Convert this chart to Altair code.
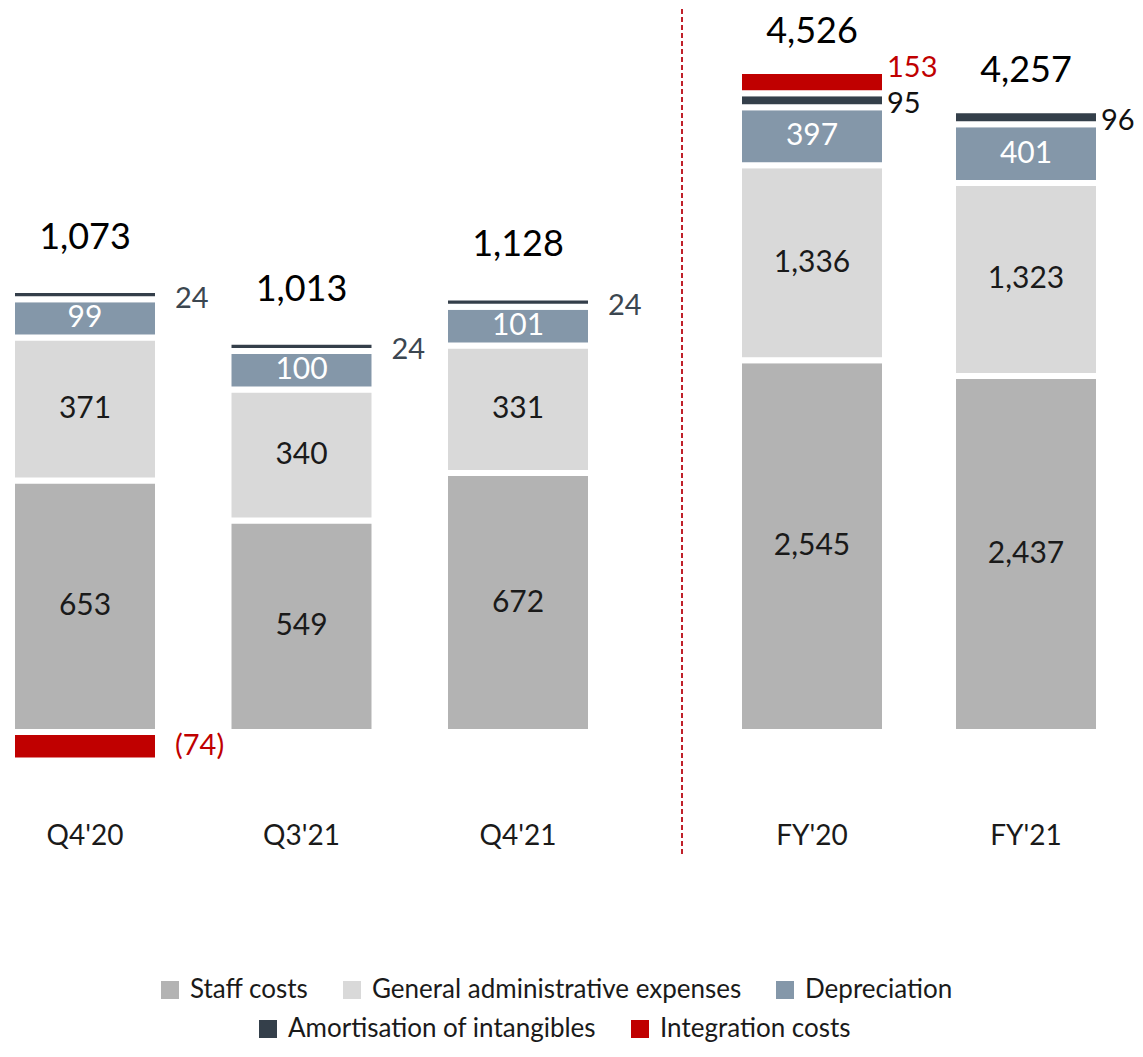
import altair as alt
import pandas as pd

FONT = "Lato"

periods_q = ["Q4'20", "Q3'21", "Q4'21"]
periods_fy = ["FY'20", "FY'21"]
periods = periods_q + periods_fy
staff = [653, 549, 672, 2545, 2437]
gen_admin = [371, 340, 331, 1336, 1323]
depreciation = [99, 100, 101, 397, 401]
amortisation = [24, 24, 24, 95, 96]
integration = [-74, 0, 0, 153, 0]
totals = [1073, 1013, 1128, 4526, 4257]

series_names = ["Staff costs", "General administrative expenses", "Depreciation",
                "Amortisation of intangibles", "Integration costs"]
series_colors = ["#b3b3b3", "#d9d9d9", "#8497a9", "#343f4a", "#c00000"]
series_values = [staff, gen_admin, depreciation, amortisation, integration]

rows = []
tot_rows = []
for i, p in enumerate(periods):
    grp = "Q" if p in periods_q else "FY"
    pos, neg = 0, 0
    for name, vals in zip(series_names, series_values):
        v = vals[i]
        if v == 0:
            continue
        if v > 0:
            s, e = pos, pos + v
            pos = e
        else:
            s, e = neg, neg + v
            neg = e
        label = f"{v:,}" if v > 0 else f"({-v:,})"
        inside = name in series_names[:3]
        ody = 0
        if inside:
            lc = "#ffffff" if name == "Depreciation" else "#1a1a1a"
        elif name == "Integration costs":
            lc = "#c00000"
            ody = -14 if v > 0 else 0
        else:
            lc = "#3b4650" if grp == "Q" else "#111111"
            ody = 4
        rows.append(dict(period=p, grp=grp, series=name, start=s, end=e,
                         mid=(s + e) / 2, label=label, inside=inside, lc=lc, ody=ody))
    tot_rows.append(dict(period=p, grp=grp, top=pos, label=f"{totals[i]:,}"))

df = pd.DataFrame(rows)
df_tot = pd.DataFrame(tot_rows)

leg_common = dict(orient="none", direction="horizontal", title=None, symbolType="square",
                  symbolSize=324, symbolStrokeWidth=0, labelFont=FONT, labelFontSize=26,
                  labelColor="#1a1a1a", labelOffset=7, columnPadding=30, labelLimit=0)
legend_a = alt.Legend(legendX=148, legendY=968, **leg_common)
legend_b = alt.Legend(legendX=246, legendY=1007, **leg_common)

H = 782


def panel(grp, cats, width, pi, po, align, domain, out_dx, tot_dy, divider=False):
    d = df[df.grp == grp]
    dt = df_tot[df_tot.grp == grp]
    xenc = alt.X("period:N", sort=cats,
                 scale=alt.Scale(domain=cats, paddingInner=pi, paddingOuter=po, align=align),
                 axis=alt.Axis(title=None, labelAngle=0, domain=False, ticks=False, tickSize=0,
                               labelPadding=31, labelFont=FONT, labelFontSize=28,
                               labelColor="#1a1a1a", grid=False))
    ysc = alt.Scale(domain=domain, nice=False, zero=False)
    bars_a = alt.Chart(d[d.series.isin(series_names[:3])]).mark_bar(
        stroke="white", strokeWidth=6).encode(
        x=xenc,
        y=alt.Y("start:Q", scale=ysc, axis=None),
        y2="end:Q",
        color=alt.Color("series:N", scale=alt.Scale(domain=series_names[:3], range=series_colors[:3]),
                        legend=legend_a),
    )
    bars_b = alt.Chart(d[~d.series.isin(series_names[:3])]).mark_bar(
        stroke="white", strokeWidth=6).encode(
        x=xenc,
        y=alt.Y("start:Q", scale=ysc, axis=None),
        y2="end:Q",
        fill=alt.Fill("series:N", scale=alt.Scale(domain=series_names[3:], range=series_colors[3:]),
                      legend=legend_b),
    )
    layers = [bars_a, bars_b]
    for c in d.lc.unique():
        sub_in = d[(d.lc == c) & (d.inside)]
        if len(sub_in):
            layers.append(alt.Chart(sub_in).mark_text(font=FONT, fontSize=30, color=c,
                                                      baseline="middle").encode(
                x=xenc, y=alt.Y("mid:Q", scale=ysc, axis=None), text="label:N"))
        for oy in d[(d.lc == c) & (~d.inside)].ody.unique():
            sub_out = d[(d.lc == c) & (~d.inside) & (d.ody == oy)]
            layers.append(alt.Chart(sub_out).mark_text(font=FONT, fontSize=29, color=c,
                                                       align="left", baseline="middle",
                                                       dx=out_dx, dy=int(oy)).encode(
                x=xenc, y=alt.Y("mid:Q", scale=ysc, axis=None), text="label:N"))
    layers.append(alt.Chart(dt).mark_text(font=FONT, fontSize=36, color="#000000",
                                          baseline="middle", dy=tot_dy).encode(
        x=xenc, y=alt.Y("top:Q", scale=ysc, axis=None), text="label:N"))
    if divider:
        layers.append(alt.Chart(pd.DataFrame({"d": [0]})).mark_rule(
            color="#c0202a", strokeDash=[5, 3], strokeWidth=2).encode(
            x=alt.value(width), y=alt.value(0), y2=alt.value(847)))
    return alt.layer(*layers).properties(width=width, height=H)


p1 = panel("Q", periods_q, 673, 0.32564, 0.21707, 0.0319, [-153.1, 1876.5], 90, -52, divider=True)
p2 = panel("FY", periods_fy, 440, 0.31776, 0.18692, 0.7125, [-404.0, 4950.7], 75, -39)

chart = alt.hconcat(p1, p2, spacing=0, bounds="flush").resolve_scale(
    y="independent", color="shared", fill="shared"
).configure_view(stroke=None).properties(
    background="white", padding={"left": 0, "top": 0, "right": 0, "bottom": 3})

chart.save("out.html", embed_options={"renderer": "svg", "actions": False})
